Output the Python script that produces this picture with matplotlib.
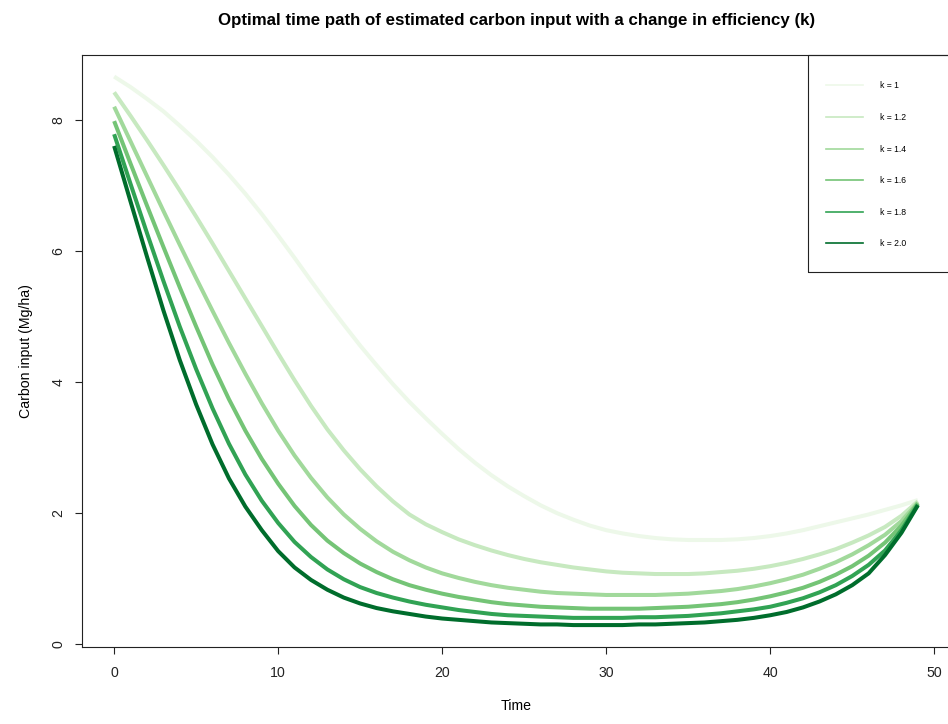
import matplotlib
matplotlib.use("Agg")
import matplotlib.pyplot as plt
from matplotlib.patches import Rectangle

plt.rcParams['font.family'] = ['Liberation Sans', 'DejaVu Sans']

# time steps and the optimal carbon input path for each efficiency k
time = list(range(50))
k_labels = ['k = 1', 'k = 1.2', 'k = 1.4', 'k = 1.6', 'k = 1.8', 'k = 2.0']
k1_0 = [8.67, 8.51, 8.33, 8.14, 7.92, 7.69, 7.44, 7.17, 6.88, 6.57, 6.24, 5.90, 5.55, 5.21, 4.88,
        4.56, 4.26, 3.97, 3.70, 3.45, 3.21, 2.98, 2.77, 2.58, 2.41, 2.26, 2.12, 2.00, 1.90, 1.81,
        1.74, 1.69, 1.65, 1.62, 1.60, 1.59, 1.59, 1.59, 1.60, 1.62, 1.65, 1.69, 1.74, 1.80, 1.86,
        1.92, 1.98, 2.05, 2.12, 2.20]
k1_2 = [8.43, 8.07, 7.70, 7.32, 6.93, 6.53, 6.12, 5.70, 5.28, 4.86, 4.44, 4.03, 3.64, 3.28, 2.96,
        2.67, 2.41, 2.18, 1.98, 1.83, 1.71, 1.60, 1.51, 1.43, 1.36, 1.30, 1.25, 1.21, 1.17, 1.14,
        1.11, 1.09, 1.08, 1.07, 1.07, 1.07, 1.08, 1.10, 1.12, 1.15, 1.19, 1.24, 1.30, 1.37, 1.45,
        1.55, 1.66, 1.79, 1.96, 2.18]
k1_4 = [8.21, 7.68, 7.15, 6.62, 6.10, 5.59, 5.09, 4.60, 4.13, 3.68, 3.26, 2.88, 2.54, 2.24, 1.98,
        1.76, 1.57, 1.41, 1.28, 1.17, 1.08, 1.01, 0.95, 0.90, 0.86, 0.83, 0.80, 0.78, 0.77, 0.76,
        0.75, 0.75, 0.75, 0.75, 0.76, 0.77, 0.79, 0.81, 0.84, 0.88, 0.93, 0.99, 1.06, 1.15, 1.25,
        1.37, 1.51, 1.67, 1.88, 2.16]
k1_6 = [7.99, 7.34, 6.70, 6.07, 5.45, 4.85, 4.27, 3.74, 3.26, 2.83, 2.45, 2.11, 1.82, 1.58, 1.39,
        1.23, 1.10, 0.99, 0.90, 0.83, 0.77, 0.72, 0.68, 0.64, 0.61, 0.59, 0.57, 0.56, 0.55, 0.54,
        0.54, 0.54, 0.54, 0.55, 0.56, 0.57, 0.59, 0.61, 0.64, 0.68, 0.73, 0.79, 0.86, 0.95, 1.06,
        1.19, 1.35, 1.55, 1.81, 2.15]
k1_8 = [7.79, 7.03, 6.28, 5.55, 4.85, 4.20, 3.60, 3.06, 2.59, 2.19, 1.85, 1.56, 1.33, 1.14, 0.99,
        0.87, 0.78, 0.71, 0.65, 0.60, 0.56, 0.52, 0.49, 0.46, 0.44, 0.43, 0.42, 0.41, 0.40, 0.40,
        0.40, 0.40, 0.41, 0.41, 0.42, 0.43, 0.45, 0.47, 0.50, 0.53, 0.57, 0.63, 0.70, 0.79, 0.90,
        1.04, 1.21, 1.43, 1.74, 2.13]
k2_0 = [7.61, 6.76, 5.92, 5.10, 4.34, 3.66, 3.05, 2.53, 2.10, 1.74, 1.42, 1.17, 0.98, 0.83, 0.71,
        0.62, 0.55, 0.50, 0.46, 0.42, 0.39, 0.37, 0.35, 0.33, 0.32, 0.31, 0.30, 0.30, 0.29, 0.29,
        0.29, 0.29, 0.30, 0.30, 0.31, 0.32, 0.33, 0.35, 0.37, 0.40, 0.44, 0.49, 0.56, 0.65, 0.76,
        0.90, 1.08, 1.36, 1.70, 2.12]
series = [k1_0, k1_2, k1_4, k1_6, k1_8, k2_0]
colors = ['#EDF8E9', '#C7E9C0', '#A1D99B', '#74C476', '#31A354', '#006D2C']

W, H = 948, 724
fig = plt.figure(figsize=(W / 100, H / 100), dpi=100)
# plot region in pixels: left 82, right 950 (past the edge), top 55, bottom 647
ax = fig.add_axes([82 / W, (H - 647) / H, (950 - 82) / W, (647 - 55) / H])

for vals, col in zip(series, colors):
    ax.plot(time, vals, color=col, lw=2.9, solid_capstyle='butt', solid_joinstyle='round')

ax.set_xlim(-1.96, 50.96)
ax.set_ylim(-0.045, 9.0)
ax.set_xticks([0, 10, 20, 30, 40, 50])
ax.set_yticks([0, 2, 4, 6, 8])
ax.tick_params(axis='both', direction='out', length=5, width=0.8, labelsize=10.2, colors='#222222')
ax.tick_params(axis='x', pad=9)
ax.tick_params(axis='y', pad=7)
for lab in ax.get_yticklabels():
    lab.set_rotation(90)
    lab.set_va('center')
for sp in ax.spines.values():
    sp.set_linewidth(0.8)
    sp.set_color('#222222')

ax.set_xlabel('Time', fontsize=10.2, labelpad=13)
ax.set_ylabel('Carbon input (Mg/ha)', fontsize=10.2, labelpad=13)
fig.text(517 / W, 1 - 21 / H, 'Optimal time path of estimated carbon input with a change in efficiency (k)',
         ha='center', va='center', fontsize=12.2, fontweight='bold')

# legend box (R style, top right of plot region)
fig.add_artist(Rectangle((808 / W, (H - 272) / H), (960 - 808) / W, (272 - 55) / H,
                         transform=fig.transFigure, fill=False, lw=0.8, ec='#222222'))
handles = [plt.Line2D([], [], color=c, lw=1.2) for c in colors]
fig.legend(handles, k_labels, loc='upper left', bbox_to_anchor=(826 / W, 1 - 81.5 / H),
           bbox_transform=fig.transFigure, frameon=False, fontsize=6.2, borderpad=0,
           borderaxespad=0, handlelength=4.3, handletextpad=1.98, labelspacing=2.62)

fig.savefig('out.png', dpi=100)
